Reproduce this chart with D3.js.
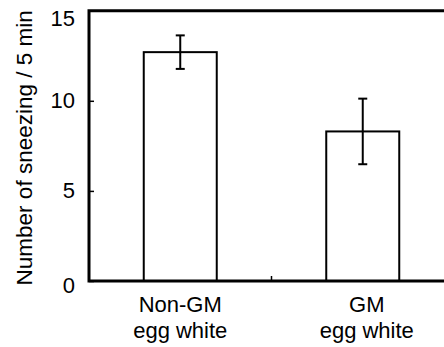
<!doctype html>
<html>
<head>
<style>
  body { margin: 0; background: #fff; }
  text { font-family: "Liberation Sans", Arial, sans-serif; fill: #000; }
</style>
<script src="https://d3js.org/d3.v7.min.js"></script>
</head>
<body>
<svg width="444" height="347"></svg>
<script>
// data
var groups = [["Non-GM", "egg white"], ["GM", "egg white"]];
var means = [12.7, 8.3];
var errs = [0.93, 1.82];
var yTicks = [0, 5, 10, 15];

var svg = d3.select("svg");
var plotL = 89, plotR = 454, plotT = 10.7, plotB = 281;

var x = d3.scaleBand()
  .domain(groups.map(function(d, i) { return i; }))
  .range([plotL, plotR])
  .paddingInner(0.6)
  .paddingOuter(0.3);

var y = d3.scaleLinear().domain([0, 15]).range([plotB, plotT]);

// bars
svg.selectAll(".bar")
  .data(means)
  .enter().append("rect")
  .attr("x", function(d, i) { return x(i); })
  .attr("y", function(d) { return y(d); })
  .attr("width", x.bandwidth())
  .attr("height", function(d) { return plotB - y(d); })
  .attr("fill", "#fff")
  .attr("stroke", "#000")
  .attr("stroke-width", 2);

// error bars
var eb = svg.selectAll(".err").data(means).enter().append("g");
eb.append("line")
  .attr("x1", function(d, i) { return x(i) + x.bandwidth() / 2; })
  .attr("x2", function(d, i) { return x(i) + x.bandwidth() / 2; })
  .attr("y1", function(d, i) { return y(d - errs[i]); })
  .attr("y2", function(d, i) { return y(d + errs[i]); })
  .attr("stroke", "#000").attr("stroke-width", 2);
[-1, 1].forEach(function(s) {
  eb.append("line")
    .attr("x1", function(d, i) { return x(i) + x.bandwidth() / 2 - 4.5; })
    .attr("x2", function(d, i) { return x(i) + x.bandwidth() / 2 + 4.5; })
    .attr("y1", function(d, i) { return y(d + s * errs[i]); })
    .attr("y2", function(d, i) { return y(d + s * errs[i]); })
    .attr("stroke", "#000").attr("stroke-width", 2);
});

// y axis, ticks pointing inside
var ya = svg.append("g")
  .attr("transform", "translate(" + plotL + ",0)")
  .call(d3.axisLeft(y).tickValues(yTicks).tickSizeInner(-5).tickSizeOuter(0).tickPadding(14));
ya.select(".domain").remove();
ya.selectAll("line").attr("stroke-width", 1.5);
ya.selectAll("text").attr("font-size", "22px").attr("font-family", null);
ya.selectAll(".tick").filter(function(d) { return d === 15; }).select("text").attr("dy", "0.65em");
ya.selectAll(".tick").filter(function(d) { return d === 0; }).select("text").attr("dy", "0.5em");

// middle tick on the bottom axis
svg.append("line")
  .attr("x1", x(1) - x.step() * x.paddingInner() / 2)
  .attr("x2", x(1) - x.step() * x.paddingInner() / 2)
  .attr("y1", plotB).attr("y2", plotB - 5)
  .attr("stroke", "#000").attr("stroke-width", 1.5);

// frame
svg.append("path")
  .attr("d", "M" + (plotR + 10) + "," + plotT + "H" + plotL + "V" + plotB + "H" + (plotR + 10))
  .attr("fill", "none").attr("stroke", "#000").attr("stroke-width", 3);

// category labels
groups.forEach(function(g, i) {
  var t = svg.append("text")
    .attr("text-anchor", "middle")
    .attr("font-size", "22px");
  g.forEach(function(line, j) {
    t.append("tspan")
      .attr("x", x(i) + x.bandwidth() / 2 + (i === 1 ? 4 : 0))
      .attr("y", 312 + j * 26)
      .text(line);
  });
});

// y label
svg.append("text")
  .attr("transform", "translate(32," + ((plotT + plotB) / 2 + 2) + ") rotate(-90)")
  .attr("text-anchor", "middle")
  .attr("font-size", "22.5px")
  .text("Number of sneezing / 5 min");
</script>
</body>
</html>
